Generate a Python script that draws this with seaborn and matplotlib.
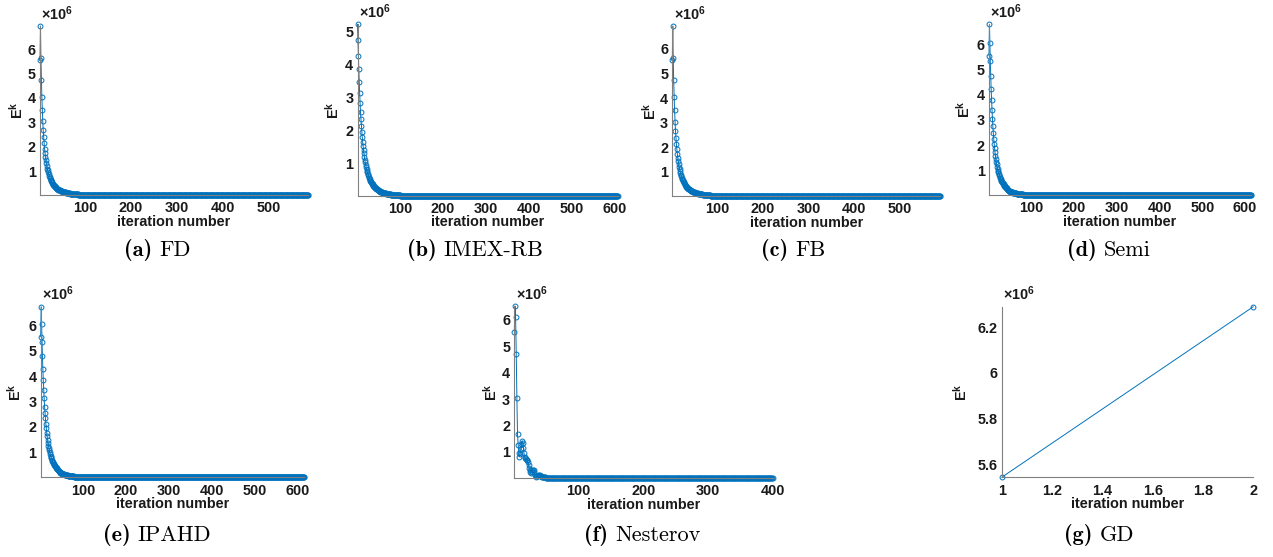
import matplotlib
matplotlib.use("Agg")
import matplotlib.pyplot as plt
import seaborn as sns
import pandas as pd
from matplotlib.ticker import MultipleLocator, FuncFormatter

# ---------------- data (values in units of 1e6) ----------------
fd_head = [5.54, 6.95, 5.62, 4.74, 4.06, 3.52, 3.05, 2.68, 2.41, 2.14,
           1.92, 1.74, 1.58, 1.44, 1.32, 1.21, 1.11, 1.03, 0.95, 0.88,
           0.82, 0.76, 0.71, 0.66, 0.62, 0.58, 0.54, 0.51, 0.48, 0.45,
           0.42, 0.40, 0.38, 0.36, 0.34, 0.32, 0.30, 0.29, 0.27, 0.26,
           0.25, 0.24, 0.23, 0.22, 0.21, 0.20, 0.19, 0.185, 0.18, 0.17]
imex_head = [5.22, 4.73, 4.26, 3.86, 3.47, 3.14, 2.84, 2.55, 2.35, 2.14,
             1.96, 1.80, 1.65, 1.52, 1.40, 1.30, 1.20, 1.11, 1.03, 0.96,
             0.89, 0.83, 0.78, 0.73, 0.68, 0.64, 0.60, 0.56, 0.53, 0.50,
             0.47, 0.44, 0.42, 0.40, 0.38, 0.36, 0.34, 0.32, 0.30, 0.29,
             0.27, 0.26, 0.25, 0.24, 0.23, 0.22, 0.21, 0.20, 0.19, 0.18]
fb_head = [5.54, 6.93, 5.62, 4.72, 4.05, 3.50, 3.05, 2.68, 2.40, 2.14,
           1.92, 1.74, 1.58, 1.44, 1.32, 1.21, 1.11, 1.03, 0.95, 0.88,
           0.82, 0.76, 0.71, 0.66, 0.62, 0.58, 0.54, 0.51, 0.48, 0.45,
           0.42, 0.40, 0.38, 0.36, 0.34, 0.32, 0.30, 0.29, 0.27, 0.26,
           0.25, 0.24, 0.23, 0.22, 0.21, 0.20, 0.19, 0.185, 0.18, 0.17]
semi_head = [5.54, 6.78, 6.03, 5.33, 4.74, 4.24, 3.80, 3.41, 3.05, 2.75,
             2.48, 2.26, 2.06, 1.88, 1.72, 1.58, 1.45, 1.34, 1.24, 1.15,
             1.07, 1.00, 0.93, 0.87, 0.81, 0.76, 0.71, 0.67, 0.63, 0.59,
             0.56, 0.53, 0.50, 0.47, 0.45, 0.42, 0.40, 0.38, 0.36, 0.34,
             0.32, 0.30, 0.28, 0.26, 0.24, 0.22, 0.21, 0.20, 0.19, 0.18]
ipahd_head = [5.54, 6.72, 6.03, 5.34, 4.78, 4.27, 3.84, 3.47, 3.12, 2.80,
              2.56, 2.34, 2.13, 1.95, 1.78, 1.63, 1.50, 1.38, 1.27, 1.18,
              1.09, 1.01, 0.94, 0.88, 0.82, 0.77, 0.72, 0.67, 0.63, 0.59,
              0.56, 0.53, 0.50, 0.47, 0.45, 0.42, 0.40, 0.38, 0.36, 0.34,
              0.32, 0.30, 0.28, 0.26, 0.24, 0.22, 0.21, 0.20, 0.19, 0.18]
nesterov_head = [5.54, 6.53, 6.10, 4.71, 3.03, 1.66, 1.25, 0.95, 0.82, 0.90,
                 1.10, 1.30, 1.42, 1.35, 1.15, 0.95, 0.80, 0.75, 0.72, 0.70,
                 0.68, 0.60, 0.50, 0.40, 0.30, 0.22, 0.20, 0.25, 0.30, 0.33,
                 0.30, 0.22, 0.14, 0.08, 0.06, 0.07, 0.09, 0.11, 0.12, 0.11,
                 0.09, 0.07, 0.05, 0.045, 0.04, 0.04, 0.035, 0.03, 0.03, 0.025]
# iterations 51..100, common to the smooth methods
smooth_mid = [0.165, 0.16, 0.15, 0.145, 0.14, 0.135, 0.13, 0.125, 0.12, 0.115,
              0.11, 0.105, 0.10, 0.097, 0.093, 0.09, 0.086, 0.083, 0.08, 0.077,
              0.074, 0.071, 0.068, 0.066, 0.063, 0.061, 0.059, 0.057, 0.055, 0.053,
              0.051, 0.049, 0.047, 0.046, 0.044, 0.043, 0.041, 0.040, 0.039, 0.037,
              0.036, 0.035, 0.034, 0.033, 0.032, 0.031, 0.030, 0.029, 0.028, 0.027]
nesterov_mid = [0.024, 0.023, 0.022, 0.021, 0.020, 0.020, 0.019, 0.018, 0.018, 0.017,
                0.016, 0.016, 0.015, 0.015, 0.014, 0.014, 0.013, 0.013, 0.013, 0.012,
                0.012, 0.012, 0.011, 0.011, 0.011, 0.010, 0.010, 0.010, 0.010, 0.009]
smooth_tail_level = 0.025
nesterov_tail_level = 0.009
gd_values = [5.542, 6.29]

methods = ["FD", "IMEX-RB", "FB", "Semi", "IPAHD", "Nesterov", "GD"]
letters = ["a", "b", "c", "d", "e", "f", "g"]
n_iters = [587, 608, 589, 614, 615, 400, 2]


def build(head, mid, tail_level, n):
    vals = list(head) + list(mid)
    vals = vals + [tail_level] * (n - len(vals))
    return vals[:n]


series = {
    "FD": build(fd_head, smooth_mid, smooth_tail_level, n_iters[0]),
    "IMEX-RB": build(imex_head, smooth_mid, smooth_tail_level, n_iters[1]),
    "FB": build(fb_head, smooth_mid, smooth_tail_level, n_iters[2]),
    "Semi": build(semi_head, smooth_mid, smooth_tail_level, n_iters[3]),
    "IPAHD": build(ipahd_head, smooth_mid, smooth_tail_level, n_iters[4]),
    "Nesterov": build(nesterov_head, nesterov_mid, nesterov_tail_level, n_iters[5]),
    "GD": list(gd_values),
}

# ---------------- style ----------------
sns.set_theme(style="white")
plt.rcParams["font.family"] = ["Liberation Sans", "DejaVu Sans"]
plt.rcParams["mathtext.fontset"] = "custom"
plt.rcParams["mathtext.rm"] = "Liberation Sans:bold"
plt.rcParams["mathtext.it"] = "Liberation Sans:bold"
plt.rcParams["mathtext.bf"] = "Liberation Sans:bold"
plt.rcParams["mathtext.sf"] = "Liberation Sans:bold"

COLOR = "#0072BD"
AXCOL = "#808080"
TXTCOL = "#1a1a1a"
W, H = 1273, 557
FS = 10.4

fig = plt.figure(figsize=(W / 100, H / 100), dpi=100)
fig.patch.set_facecolor("white")

# pixel boxes: left, top, right, bottom
boxes = [(40, 26, 308, 195), (357.5, 24.3, 617.7, 195.5), (672.3, 26, 940, 196),
         (989, 24.3, 1251, 195.2), (40.7, 306.7, 304, 477.3),
         (514.3, 306, 772.7, 478), (1001.7, 306.7, 1253.3, 477.3)]
ylab_off = [-14, -16, -14, -16, -17, -15, -32]
caps = [(157, 256), (475, 256), (793, 256), (1109, 256),
        (157, 541), (642, 541), (1099, 541)]

fmt = FuncFormatter(lambda v, p: f"{v:g}")

for i, m in enumerate(methods):
    l, t, r, b = boxes[i]
    ax = fig.add_axes([l / W, 1 - b / H, (r - l) / W, (b - t) / H])
    vals = series[m]
    df = pd.DataFrame({"iter": list(range(1, len(vals) + 1)), "E": vals})
    sns.lineplot(data=df, x="iter", y="E", ax=ax, color=COLOR, linewidth=0.7,
                 marker="o", markersize=3.5, markerfacecolor="none",
                 markeredgecolor=COLOR, markeredgewidth=0.7, clip_on=False,
                 estimator=None, sort=False)
    ax.set_xlim(1, len(vals))
    ax.set_ylim(min(vals), max(vals))
    for s in ["top", "right"]:
        ax.spines[s].set_visible(False)
    for s in ["left", "bottom"]:
        ax.spines[s].set_color(AXCOL)
        ax.spines[s].set_linewidth(0.8)
    if m == "GD":
        ax.xaxis.set_major_locator(MultipleLocator(0.2))
        ax.yaxis.set_major_locator(MultipleLocator(0.2))
    else:
        ax.xaxis.set_major_locator(MultipleLocator(100))
        ax.yaxis.set_major_locator(MultipleLocator(1))
    ax.xaxis.set_major_formatter(fmt)
    ax.yaxis.set_major_formatter(fmt)
    ax.tick_params(direction="in", length=3, width=0.6, color=AXCOL,
                   labelsize=FS, labelcolor=TXTCOL)
    ax.tick_params(axis="x", pad=4.5)
    ax.tick_params(axis="y", pad=3)
    for lab in ax.get_xticklabels() + ax.get_yticklabels():
        lab.set_fontweight("bold")
    ax.set_xlabel("iteration number", fontsize=FS, fontweight="bold", color=TXTCOL)
    ax.xaxis.set_label_coords(0.5, -20 / (b - t))
    ax.set_ylabel(r"$\mathrm{E}^{\mathrm{k}}$", fontsize=FS, color=TXTCOL)
    ax.yaxis.set_label_coords(ylab_off[i] / (r - l), 0.5)
    ax.annotate(r"$\mathbf{\times10^{6}}$", xy=(0, 1), xycoords="axes fraction",
                xytext=(1, 2.5), textcoords="offset points", ha="left", va="bottom",
                fontsize=FS, color=TXTCOL)

# captions: bold "(x)" in cmb10 followed by the method name in cmr10
renderer = fig.canvas.get_renderer()
CAP_FS = 16
gap = 0.33 * CAP_FS * 100 / 72
for i, m in enumerate(methods):
    cx, cy = caps[i]
    t1 = fig.text(0, 1 - cy / H, "(" + letters[i] + ")", family="cmb10",
                  fontsize=CAP_FS, ha="left", va="baseline", color="black")
    t2 = fig.text(0, 1 - cy / H, m, family="cmr10", fontsize=CAP_FS,
                  ha="left", va="baseline", color="black")
    w1 = t1.get_window_extent(renderer).width
    w2 = t2.get_window_extent(renderer).width
    left = cx - (w1 + gap + w2) / 2
    t1.set_x(left / W)
    t2.set_x((left + w1 + gap) / W)

fig.savefig("out.png", dpi=100, facecolor="white")
